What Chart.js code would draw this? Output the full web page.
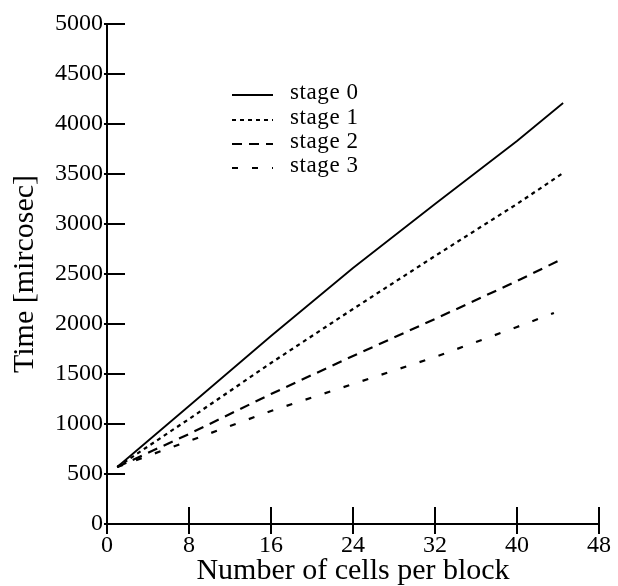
<!DOCTYPE html>
<html>
<head>
<meta charset="utf-8">
<script src="https://cdn.jsdelivr.net/npm/chart.js@4.4.1/dist/chart.umd.min.js"></script>
<style>
  html, body { margin: 0; padding: 0; background: #fff; }
  #wrap { width: 618px; height: 586px; }
</style>
</head>
<body>
<div id="wrap"><canvas id="c" width="618" height="586"></canvas></div>
<script>
// ---- data ----
const seriesNames = ['stage 0', 'stage 1', 'stage 2', 'stage 3'];
const xValues = [1, 8, 16, 24, 32, 40];
const lastX   = [44.5, 44.5, 44.2, 43.6];
const stage0 = [570, 1180, 1880, 2560, 3200, 3830, 4210];
const stage1 = [570, 1050, 1610, 2150, 2680, 3200, 3510];
const stage2 = [570, 900, 1300, 1680, 2050, 2430, 2640];
const stage3 = [570, 830, 1130, 1400, 1670, 1970, 2110];
const xTicks = [0, 8, 16, 24, 32, 40, 48];
const yTicks = [0, 500, 1000, 1500, 2000, 2500, 3000, 3500, 4000, 4500, 5000];

const dashes = [[], [4, 4], [10, 7], [6, 14]];
const allSeries = [stage0, stage1, stage2, stage3];

const FONT = "'Liberation Serif', 'Times New Roman', serif";

const datasets = allSeries.map((vals, i) => ({
  label: seriesNames[i],
  data: vals.map((v, j) => ({ x: j < xValues.length ? xValues[j] : lastX[i], y: v })),
  borderColor: '#000',
  borderWidth: i === 0 ? 1.8 : 2.2,
  borderDash: dashes[i],
  pointRadius: 0,
  tension: 0,
  fill: false
}));

// tick marks crossing the axes, drawn from the scales
const tickMarks = {
  id: 'tickMarks',
  afterDraw(chart) {
    const ctx = chart.ctx;
    const xs = chart.scales.x, ys = chart.scales.y;
    const ca = chart.chartArea;
    ctx.save();
    ctx.strokeStyle = '#000';
    ctx.lineWidth = 2;
    ctx.beginPath();
    yTicks.forEach(v => {
      const py = ys.getPixelForValue(v);
      ctx.moveTo(ca.left - 3, py);
      ctx.lineTo(ca.left + 18, py);
    });
    xTicks.forEach(v => {
      const px = xs.getPixelForValue(v);
      ctx.moveTo(px, ca.bottom - 17);
      ctx.lineTo(px, ca.bottom + 10);
    });
    ctx.stroke();
    ctx.restore();
  }
};

// legend inside the plot
const innerLegend = {
  id: 'innerLegend',
  afterDraw(chart) {
    const ctx = chart.ctx;
    const rows = [93, 118, 142, 166];
    ctx.save();
    chart.data.datasets.forEach((ds, i) => {
      const y = rows[i];
      ctx.strokeStyle = '#000';
      ctx.lineWidth = ds.borderWidth;
      ctx.setLineDash(ds.borderDash);
      ctx.beginPath();
      ctx.moveTo(232, y + 2);
      ctx.lineTo(273, y + 2);
      ctx.stroke();
      ctx.setLineDash([]);
      ctx.fillStyle = '#000';
      ctx.font = '23px ' + FONT;
      if ('letterSpacing' in ctx) ctx.letterSpacing = '0.6px';
      ctx.textBaseline = 'middle';
      ctx.textAlign = 'left';
      ctx.fillText(ds.label, 290, y);
    });
    ctx.restore();
  }
};

new Chart(document.getElementById('c'), {
  type: 'line',
  data: { datasets },
  options: {
    responsive: false,
    animation: false,
    events: [],
    layout: { padding: { top: 24, right: 16, left: 0, bottom: 0 } },
    plugins: { legend: { display: false }, tooltip: { enabled: false } },
    scales: {
      x: {
        type: 'linear',
        min: 0, max: 48,
        afterFit(scale) { scale.height = 62; },
        afterBuildTicks(scale) { scale.ticks = xTicks.map(v => ({ value: v })); },
        grid: { display: false, drawTicks: false },
        border: { display: true, color: '#000', width: 2 },
        ticks: { color: '#000', font: { family: FONT, size: 24 }, padding: 7, maxRotation: 0, autoSkip: false,
                 callback: v => String(v) },
        title: { display: true, text: 'Number of cells per block', color: '#000',
                 font: { family: FONT, size: 30, lineHeight: 1 }, padding: { top: 0, bottom: 0 } }
      },
      y: {
        type: 'linear',
        min: 0, max: 5000,
        afterFit(scale) { scale.width = 107; },
        afterBuildTicks(scale) { scale.ticks = yTicks.map(v => ({ value: v })); },
        grid: { display: false, drawTicks: false },
        border: { display: true, color: '#000', width: 2 },
        ticks: { color: '#000', font: { family: FONT, size: 24 }, padding: 4, autoSkip: false,
                 callback: v => String(v) },
        title: { display: true, text: 'Time [mircosec]', color: '#000',
                 font: { family: FONT, size: 30, lineHeight: 1 }, padding: { top: 10, bottom: 0 } }
      }
    }
  },
  plugins: [tickMarks, innerLegend]
});
</script>
</body>
</html>
